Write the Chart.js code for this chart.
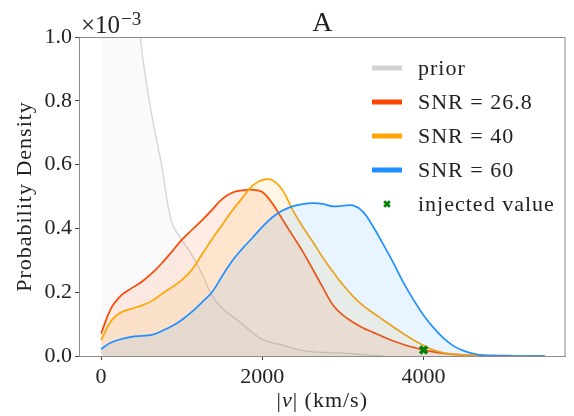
<!DOCTYPE html>
<html>
<head>
<meta charset="utf-8">
<script src="https://cdn.jsdelivr.net/npm/chart.js@4.4.0/dist/chart.umd.min.js"></script>
<style>
  html, body { margin: 0; padding: 0; background: #fff; }
  #wrap { width: 574px; height: 416px; position: relative; }
</style>
</head>
<body>
<div id="wrap"><canvas id="velChart"></canvas></div>
<script>
// |v| grid (km/s) shared by all curves
const velocity = [0, 125, 250, 375, 500, 625, 750, 875, 1000, 1125, 1250, 1375, 1500, 1625, 1750, 1875,
  2000, 2125, 2250, 2375, 2500, 2625, 2750, 2875, 3000, 3125, 3250, 3375, 3500, 3625, 3750, 3875,
  4000, 4125, 4250, 4375, 4500, 4625, 4750, 4875, 5000, 5125, 5250, 5375, 5500];

// probability density, in units of 1e-3
const prior = [2.6, 2.2, 1.8, 1.35, 0.97, 0.76, 0.6, 0.42, 0.365, 0.318, 0.258, 0.19, 0.15, 0.125, 0.1, 0.074,
  0.052, 0.042, 0.034, 0.025, 0.017, 0.013, 0.011, 0.010, 0.009, 0.007, 0.004, 0.002, 0.001, null, null, null,
  null, null, null, null, null, null, null, null, null, null, null, null, null];
const snr268 = [0.07, 0.15, 0.19, 0.212, 0.232, 0.258, 0.29, 0.326, 0.364, 0.395, 0.425, 0.458, 0.492, 0.512, 0.519, 0.521,
  0.514, 0.478, 0.428, 0.378, 0.328, 0.272, 0.215, 0.16, 0.128, 0.106, 0.088, 0.074, 0.060, 0.047, 0.036, 0.027,
  0.019, 0.013, 0.008, 0.005, 0.003, 0.002, 0.0015, 0.001, 0.001, 0.0008, 0.0005, 0.0003, 0.0002];
const snr40 = [0.05, 0.11, 0.137, 0.148, 0.158, 0.172, 0.194, 0.215, 0.238, 0.27, 0.318, 0.366, 0.41, 0.455, 0.495, 0.533,
  0.552, 0.551, 0.52, 0.458, 0.405, 0.358, 0.309, 0.264, 0.223, 0.187, 0.158, 0.135, 0.113, 0.091, 0.07, 0.05,
  0.033, 0.019, 0.010, 0.005, 0.003, 0.0015, 0.001, 0.0005, 0.0003, 0.0002, 0.0001, 0, 0];
const snr60 = [0.022, 0.042, 0.053, 0.06, 0.063, 0.066, 0.078, 0.093, 0.113, 0.138, 0.168, 0.2, 0.25, 0.298, 0.336, 0.37,
  0.405, 0.435, 0.456, 0.469, 0.476, 0.479, 0.477, 0.469, 0.471, 0.472, 0.452, 0.405, 0.35, 0.292, 0.23, 0.176,
  0.128, 0.088, 0.055, 0.031, 0.016, 0.007, 0.002, 0.001, 0.0005, 0, 0, 0, 0];

const injectedV = 4000;
const injectedDensity = 0.019;

const xTicks = [0, 2000, 4000];
const yTicks = [0, 0.2, 0.4, 0.6, 0.8, 1.0];

const serif = '"Liberation Serif", "Times New Roman", serif';
const textColor = '#222';
const spineColor = '#8c8c8c';

function pts(arr) {
  return velocity.map((v, i) => ({ x: v, y: arr[i] }));
}

function curve(label, arr, color, fillColor, width, order) {
  return {
    label: label,
    data: pts(arr),
    borderColor: color,
    backgroundColor: fillColor,
    borderWidth: width,
    fill: 'origin',
    pointRadius: 0,
    tension: 0.4,
    order: order
  };
}

// frame, title, axis labels, offset text and legend
const decorations = {
  id: 'decorations',
  afterDraw(chart) {
    const ctx = chart.ctx;
    const a = chart.chartArea;
    ctx.save();

    ctx.strokeStyle = spineColor;
    ctx.lineWidth = 1;
    ctx.beginPath();
    ctx.moveTo(a.left, a.top + 0.5);
    ctx.lineTo(a.right - 0.5, a.top + 0.5);
    ctx.lineTo(a.right - 0.5, a.bottom);
    ctx.stroke();

    ctx.fillStyle = textColor;
    ctx.textBaseline = 'alphabetic';

    // title
    ctx.font = '28px ' + serif;
    ctx.textAlign = 'center';
    ctx.fillText('A', (a.left + a.right) / 2, 31);

    // offset text x10^-3
    ctx.textAlign = 'left';
    ctx.font = '25px ' + serif;
    ctx.fillText('\u00d710', a.left + 2, 33);
    const w10 = ctx.measureText('\u00d710').width;
    ctx.font = '19px ' + serif;
    ctx.fillText('\u22123', a.left + 3 + w10, 25);

    // x axis label |v| (km/s)
    ctx.letterSpacing = '1px';
    const parts = [['|', ''], ['v', 'italic '], ['| (km/s)', '']];
    let total = 0;
    parts.forEach(p => { ctx.font = p[1] + '22px ' + serif; total += ctx.measureText(p[0]).width; });
    let x = (a.left + a.right) / 2 - total / 2;
    parts.forEach(p => {
      ctx.font = p[1] + '22px ' + serif;
      ctx.fillText(p[0], x, 407);
      x += ctx.measureText(p[0]).width;
    });

    // y axis label
    ctx.save();
    ctx.translate(31, (a.top + a.bottom) / 2);
    ctx.rotate(-Math.PI / 2);
    ctx.textAlign = 'center';
    ctx.font = '22px ' + serif;
    ctx.fillText('Probability Density', 0, 0);
    ctx.restore();

    // legend
    const rows = [68, 102, 136, 170, 204];
    const items = chart.data.datasets;
    ctx.textBaseline = 'middle';
    ctx.font = '22px ' + serif;
    items.forEach((ds, r) => {
      const y = rows[r];
      if (ds.showLine === false) {
        ctx.strokeStyle = ds.borderColor;
        ctx.lineWidth = 2.8;
        const s = 2.8;
        ctx.beginPath();
        ctx.moveTo(387 - s, y - s); ctx.lineTo(387 + s, y + s);
        ctx.moveTo(387 - s, y + s); ctx.lineTo(387 + s, y - s);
        ctx.stroke();
      } else {
        ctx.strokeStyle = ds.borderColor;
        ctx.lineWidth = 5;
        ctx.beginPath();
        ctx.moveTo(372, y);
        ctx.lineTo(402, y);
        ctx.stroke();
      }
      ctx.fillStyle = textColor;
      ctx.fillText(ds.label, 418, y + 1);
    });

    ctx.restore();
  }
};

const datasets = [
  curve('prior', prior, '#d3d3d3', 'rgba(211,211,211,0.12)', 1.3, 4),
  curve('SNR = 26.8', snr268, '#ff4500', 'rgba(255,69,0,0.1)', 1.7, 3),
  curve('SNR = 40', snr40, '#ffa500', 'rgba(255,165,0,0.1)', 1.7, 2),
  curve('SNR = 60', snr60, '#1e90ff', 'rgba(30,144,255,0.1)', 1.7, 1),
  {
    label: 'injected value',
    data: [{ x: injectedV, y: injectedDensity }],
    showLine: false,
    borderColor: '#008000',
    backgroundColor: '#008000',
    pointStyle: 'crossRot',
    pointRadius: 5,
    pointBorderWidth: 3.5,
    order: 0
  }
];

new Chart(document.getElementById('velChart'), {
  type: 'line',
  data: { datasets: datasets },
  plugins: [decorations],
  options: {
    responsive: true,
    maintainAspectRatio: false,
    animation: false,
    layout: { padding: { top: 37, right: 2, left: 0, bottom: 0 } },
    plugins: {
      legend: { display: false },
      tooltip: { enabled: false },
      title: { display: false }
    },
    scales: {
      x: {
        type: 'linear',
        min: -274,
        max: 5760,
        afterBuildTicks: s => { s.ticks = xTicks.map(v => ({ value: v })); },
        afterFit: s => { s.height = 60; },
        grid: { drawOnChartArea: false, drawTicks: true, tickLength: 4, tickColor: '#444' },
        border: { display: true, color: spineColor, width: 1 },
        ticks: { color: textColor, padding: 4, maxRotation: 0, callback: v => String(v), font: { family: serif, size: 22 } }
      },
      y: {
        min: 0,
        max: 1,
        afterBuildTicks: s => { s.ticks = yTicks.map(v => ({ value: v })); },
        afterFit: s => { s.width = 79; },
        grid: { drawOnChartArea: false, drawTicks: true, tickLength: 4, tickColor: '#444' },
        border: { display: true, color: spineColor, width: 1 },
        ticks: { color: textColor, padding: 3, callback: v => v.toFixed(1), font: { family: serif, size: 22 } }
      }
    }
  }
});
</script>
</body>
</html>
